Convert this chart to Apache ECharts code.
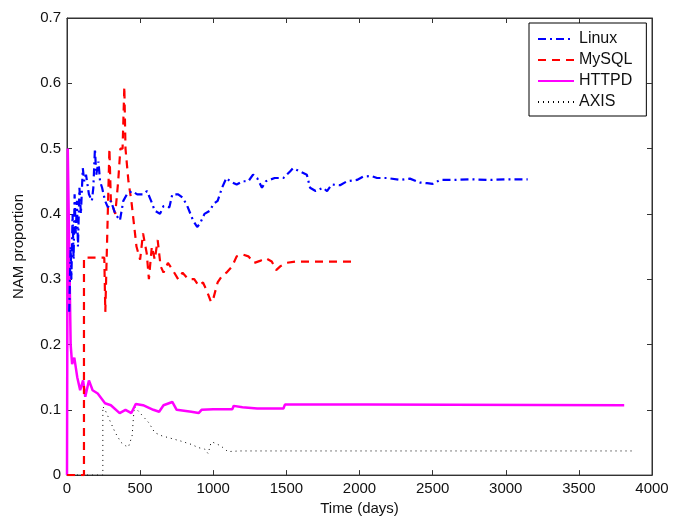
<!DOCTYPE html>
<html>
<head>
<meta charset="utf-8">
<script src="https://cdn.jsdelivr.net/npm/echarts@6/dist/echarts.min.js"></script>
<style>
  html, body { margin: 0; padding: 0; background: #fff; }
  #chart { width: 687px; height: 521px; }
</style>
</head>
<body>
<div id="chart"></div>
<script>
// values: days since start, NAM proportion
const linuxDays = [15, 25, 30, 38, 45, 52, 60, 68, 75, 85, 95, 108, 118, 130, 150, 170, 180, 191, 200, 215, 226, 240, 260, 280, 300, 330, 362, 385, 410, 444, 480, 520, 547, 575, 600, 636, 660, 700, 720, 760, 790, 821, 862, 890, 909, 940, 978, 1000, 1030, 1060, 1090, 1115, 1160, 1200, 1240, 1272, 1300, 1333, 1360, 1420, 1480, 1525, 1545, 1593, 1640, 1662, 1700, 1750, 1778, 1810, 1867, 1915, 1983, 2024, 2080, 2120, 2188, 2280, 2345, 2414, 2462, 2500, 2551, 2650, 2750, 2900, 3000, 3150];
const linuxVals = [0.25, 0.35, 0.30, 0.40, 0.33, 0.43, 0.37, 0.42, 0.35, 0.44, 0.40, 0.47, 0.45, 0.46, 0.43, 0.42, 0.44, 0.50, 0.46, 0.48, 0.45, 0.44, 0.42, 0.41, 0.42, 0.40, 0.39, 0.42, 0.43, 0.435, 0.43, 0.43, 0.435, 0.42, 0.405, 0.40, 0.412, 0.41, 0.43, 0.43, 0.425, 0.413, 0.39, 0.38, 0.385, 0.40, 0.405, 0.415, 0.42, 0.44, 0.455, 0.45, 0.445, 0.45, 0.45, 0.46, 0.455, 0.44, 0.45, 0.455, 0.455, 0.465, 0.47, 0.465, 0.46, 0.44, 0.435, 0.44, 0.435, 0.445, 0.444, 0.45, 0.452, 0.457, 0.458, 0.455, 0.455, 0.452, 0.454, 0.448, 0.447, 0.446, 0.452, 0.452, 0.453, 0.452, 0.453, 0.453];

const mysqlDays = [0, 116, 116, 255, 262, 275, 290, 300, 330, 350, 365, 380, 392, 400, 420, 440, 460, 475, 500, 520, 545, 560, 580, 600, 620, 640, 660, 690, 720, 760, 790, 830, 870, 900, 930, 960, 985, 1000, 1030, 1060, 1090, 1130, 1160, 1200, 1240, 1280, 1320, 1360, 1400, 1430, 1460, 1500, 1560, 1970];
const mysqlVals = [0, 0, 0.333, 0.333, 0.25, 0.25, 0.5, 0.42, 0.40, 0.45, 0.5, 0.5, 0.595, 0.5, 0.45, 0.42, 0.38, 0.35, 0.33, 0.37, 0.34, 0.30, 0.35, 0.33, 0.36, 0.32, 0.31, 0.325, 0.315, 0.30, 0.31, 0.30, 0.30, 0.29, 0.295, 0.28, 0.265, 0.27, 0.295, 0.305, 0.31, 0.32, 0.335, 0.338, 0.335, 0.325, 0.328, 0.332, 0.327, 0.314, 0.32, 0.325, 0.327, 0.327];

const httpdDays = [0, 5, 15, 25, 35, 50, 70, 90, 110, 125, 150, 175, 210, 260, 300, 360, 400, 440, 470, 520, 590, 630, 660, 720, 750, 850, 900, 920, 1000, 1130, 1140, 1200, 1300, 1480, 1490, 2050, 2060, 3810];
const httpdVals = [0, 0.5, 0.35, 0.2, 0.17, 0.18, 0.15, 0.13, 0.145, 0.12, 0.145, 0.13, 0.125, 0.11, 0.107, 0.095, 0.1, 0.095, 0.109, 0.107, 0.1, 0.097, 0.107, 0.112, 0.1, 0.097, 0.095, 0.1, 0.101, 0.101, 0.106, 0.104, 0.102, 0.102, 0.108, 0.108, 0.107, 0.107];

const axisDays = [0, 245, 245, 260, 290, 330, 370, 400, 420, 445, 460, 480, 520, 560, 600, 650, 700, 780, 850, 900, 940, 965, 985, 1000, 1050, 1100, 1180, 1300, 3870];
const axisVals = [0, 0, 0.105, 0.1, 0.085, 0.065, 0.05, 0.045, 0.043, 0.06, 0.105, 0.1, 0.09, 0.08, 0.065, 0.06, 0.057, 0.052, 0.047, 0.042, 0.04, 0.033, 0.05, 0.05, 0.045, 0.036, 0.037, 0.037, 0.037];

const xTicks = [0, 500, 1000, 1500, 2000, 2500, 3000, 3500, 4000];
const yTicks = [0, 0.1, 0.2, 0.3, 0.4, 0.5, 0.6, 0.7];

function pairs(xs, ys) {
  return xs.map((x, i) => [x, ys[i]]);
}

const font = 'Liberation Sans, Arial, sans-serif';
const textStyle = { fontFamily: font, fontSize: 15, color: '#111' };
const chart = echarts.init(document.getElementById('chart'));

function xAxis(extra) {
  return Object.assign({
    type: 'value',
    min: xTicks[0],
    max: xTicks[xTicks.length - 1],
    interval: 500,
    splitLine: { show: false },
    axisLine: { onZero: false, lineStyle: { color: '#333', width: 1 } },
    axisTick: { show: true, inside: true, length: 5, lineStyle: { color: '#333' } }
  }, extra);
}
function yAxis(extra) {
  return Object.assign({
    type: 'value',
    min: yTicks[0],
    max: yTicks[yTicks.length - 1],
    interval: 0.1,
    splitLine: { show: false },
    axisLine: { show: true, onZero: false, lineStyle: { color: '#333', width: 1 } },
    axisTick: { show: true, inside: true, length: 5, lineStyle: { color: '#333' } }
  }, extra);
}

chart.setOption({
  animation: false,
  backgroundColor: '#fff',
  grid: { left: 67, right: 35, top: 18, bottom: 43, show: true, borderColor: '#333', borderWidth: 1 },
  legend: {
    left: 529,
    top: 23,
    orient: 'vertical',
    itemWidth: 36,
    itemHeight: 11,
    itemGap: 5,
    padding: [8, 14, 6, 8],
    borderColor: '#000',
    borderWidth: 1,
    backgroundColor: '#fff',
    itemStyle: { opacity: 0 },
    textStyle: { fontFamily: font, fontSize: 16, color: '#111' },
    data: ['Linux', 'MySQL', 'HTTPD', 'AXIS']
  },
  xAxis: [
    xAxis({
      position: 'bottom',
      name: 'Time (days)',
      nameLocation: 'middle',
      nameGap: 24,
      nameTextStyle: textStyle,
      axisLabel: Object.assign({ margin: 6, formatter: v => String(v) }, textStyle)
    }),
    xAxis({ position: 'top', axisLabel: { show: false } })
  ],
  yAxis: [
    yAxis({
      position: 'left',
      name: 'NAM proportion',
      nameLocation: 'middle',
      nameGap: 41,
      nameTextStyle: textStyle,
      axisLabel: Object.assign({ margin: 6, formatter: v => String(Math.round(v * 10) / 10) }, textStyle)
    }),
    yAxis({ position: 'right', axisLabel: { show: false } })
  ],
  series: [
    {
      name: 'Linux', type: 'line', symbol: 'none', z: 4,
      data: pairs(linuxDays, linuxVals),
      itemStyle: { color: '#0000ff' },
      lineStyle: { color: '#0000ff', width: 2.2, type: [8, 4, 2, 4] }
    },
    {
      name: 'MySQL', type: 'line', symbol: 'none', z: 3,
      data: pairs(mysqlDays, mysqlVals),
      itemStyle: { color: '#ff0000' },
      lineStyle: { color: '#ff0000', width: 2.2, type: [8, 6] }
    },
    {
      name: 'HTTPD', type: 'line', symbol: 'none', z: 2,
      data: pairs(httpdDays, httpdVals),
      itemStyle: { color: '#ff00ff' },
      lineStyle: { color: '#ff00ff', width: 2.5, type: 'solid' }
    },
    {
      name: 'AXIS', type: 'line', symbol: 'none', z: 1,
      data: pairs(axisDays, axisVals),
      itemStyle: { color: '#000' },
      lineStyle: { color: '#000', width: 1, type: [1, 4] }
    }
  ]
});
</script>
</body>
</html>
